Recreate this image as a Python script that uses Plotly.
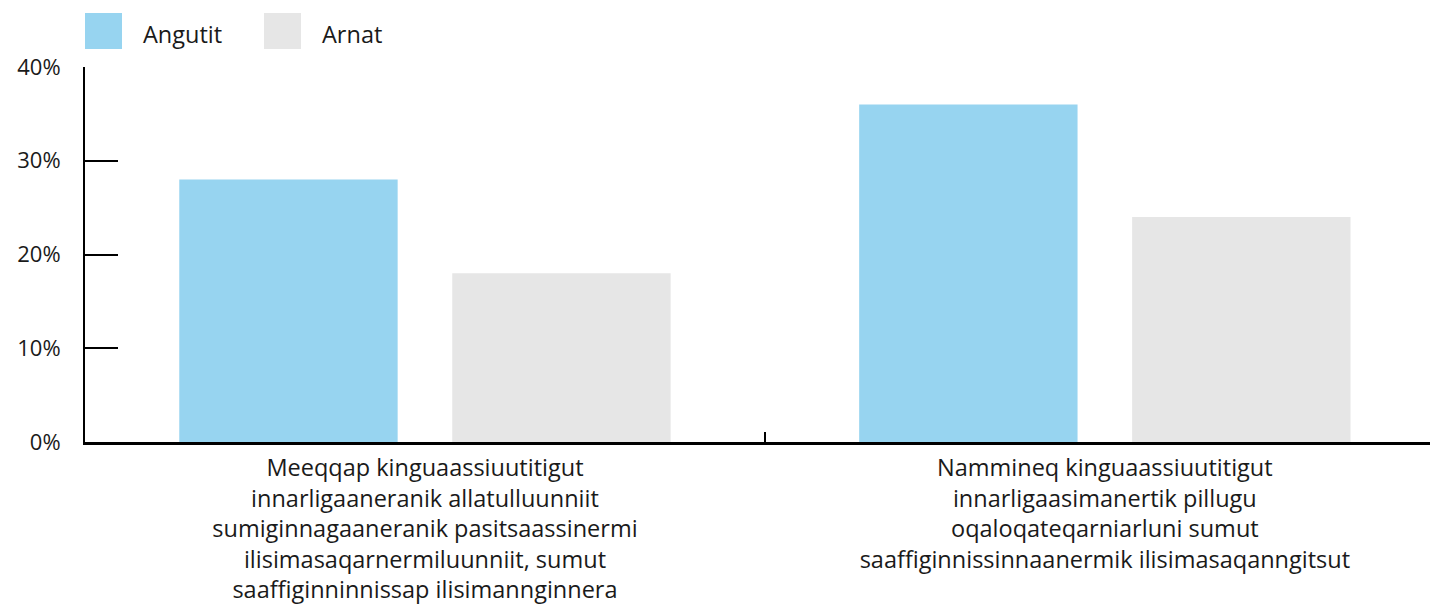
import plotly.graph_objects as go

categories = ["Meeqqap kinguaassiuutitigut innarligaaneranik allatulluunniit sumiginnagaaneranik pasitsaassinermi ilisimasaqarnermiluunniit, sumut saaffiginninnissap ilisimannginnera",
              "Nammineq kinguaassiuutitigut innarligaasimanertik pillugu oqaloqateqarniarluni sumut saaffiginnissinnaanermik ilisimasaqanngitsut"]
tick_labels = ["Meeqqap kinguaassiuutitigut<br>innarligaaneranik allatulluunniit<br>sumiginnagaaneranik pasitsaassinermi<br>ilisimasaqarnermiluunniit, sumut<br>saaffiginninnissap ilisimannginnera",
               "Nammineq kinguaassiuutitigut<br>innarligaasimanertik pillugu<br>oqaloqateqarniarluni sumut<br>saaffiginnissinnaanermik ilisimasaqanngitsut"]
series_names = ["Angutit", "Arnat"]
angutit = [28, 36]
arnat = [18, 24]
y_ticks = [0, 10, 20, 30, 40]
y_tick_labels = ["0%", "10%", "20%", "30%", "40%"]

colors = ["#97D4F0", "#E6E6E6"]
FONT = "Open Sans"
TXT = "#1a1a1a"
FS = 23.5
FS_Y = 22

# page body has an 8px margin; figure is sized so it ends at the window edge
W, H = 1430, 600
L, T, B = 77, 59, 166
PW, PH = W - L, H - T - B

fig = go.Figure()
for name, vals, c in zip(series_names, [angutit, arnat], colors):
    fig.add_trace(go.Bar(x=categories, y=vals, name=name, marker=dict(color=c, line=dict(width=0)),
                         showlegend=False))

fig.update_layout(
    width=W, height=H,
    margin=dict(l=L, r=0, t=T, b=B, autoexpand=False),
    paper_bgcolor="white", plot_bgcolor="white",
    barmode="group", bargap=0.197, bargroupgap=0.2,
    font=dict(family=FONT, size=FS, color=TXT),
    xaxis=dict(range=[-0.5, 1.49], showline=True, linecolor="black", linewidth=2.5, showgrid=False,
               ticks="inside", tickson="boundaries", ticklen=10, tickwidth=2, tickcolor="black",
               tickvals=categories, ticktext=tick_labels, ticklabelstandoff=3,
               tickfont=dict(size=FS, family=FONT, color=TXT)),
    yaxis=dict(range=[0, 40], showline=True, linecolor="black", linewidth=2, showgrid=False,
               zeroline=False, ticks="inside", ticklen=33, tickwidth=2, tickcolor="black",
               tickvals=y_ticks, ticktext=y_tick_labels, ticklabelstandoff=18,
               tickfont=dict(size=FS_Y, family=FONT, color=TXT)),
)

# Legend drawn as large swatches (page coords converted to paper coords)
def px_x(x):
    return (x - 8 - L) / PW

def px_y(y):
    return (H - B - (y - 8)) / PH

legend_x = [85, 264]
for i, (name, c) in enumerate(zip(series_names, colors)):
    x0 = legend_x[i]
    fig.add_shape(type="rect", xref="paper", yref="paper",
                  x0=px_x(x0), x1=px_x(x0 + 37), y0=px_y(49), y1=px_y(13),
                  fillcolor=c, line=dict(width=0))
    fig.add_annotation(xref="paper", yref="paper", x=px_x(x0 + 56), y=px_y(34),
                       text=name, showarrow=False, xanchor="left", yanchor="middle",
                       font=dict(size=FS, family=FONT, color=TXT))

fig.write_html("out.html")
